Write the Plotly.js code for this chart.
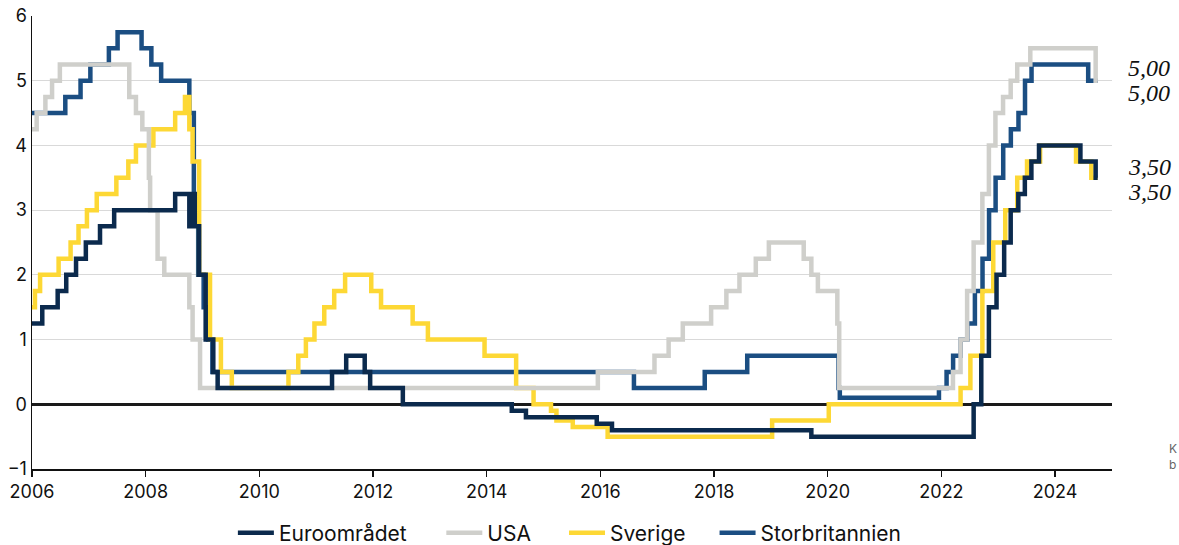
<!DOCTYPE html>
<html>
<head>
<meta charset="utf-8">
<script src="https://cdn.plot.ly/plotly-3.0.1.min.js"></script>
<style>html,body{margin:0;padding:0;background:#fff;}#chart{width:1179px;height:545px;}</style>
</head>
<body>
<div id="chart"></div>
<script>
// Euroområdet (ECB deposit rate)
const euroDates = ['2006-01-01','2006-03-08','2006-06-15','2006-08-09','2006-10-11','2006-12-13','2007-03-14','2007-06-13','2008-07-09','2008-10-08','2008-10-15','2008-11-12','2008-12-10','2009-01-21','2009-03-11','2009-04-08','2011-04-13','2011-07-13','2011-11-09','2011-12-14','2012-07-11','2014-06-11','2014-09-10','2015-12-09','2016-03-16','2019-09-18','2022-07-27','2022-09-14','2022-11-02','2022-12-21','2023-02-08','2023-03-22','2023-05-10','2023-06-21','2023-08-02','2023-09-20','2024-06-12','2024-09-18','2024-10-01'];
const euroValues = [1.25,1.5,1.75,2.0,2.25,2.5,2.75,3.0,3.25,2.75,3.25,2.75,2.0,1.0,0.5,0.25,0.5,0.75,0.5,0.25,0.0,-0.1,-0.2,-0.3,-0.4,-0.5,0.0,0.75,1.5,2.0,2.5,3.0,3.25,3.5,3.75,4.0,3.75,3.5,3.5];

// USA (Fed funds, upper bound)
const usaDates = ['2006-01-01','2006-01-31','2006-03-28','2006-05-10','2006-06-29','2007-09-18','2007-10-31','2007-12-11','2008-01-22','2008-01-30','2008-03-18','2008-04-30','2008-10-08','2008-10-29','2008-12-16','2015-12-16','2016-12-14','2017-03-15','2017-06-14','2017-12-13','2018-03-21','2018-06-13','2018-09-26','2018-12-19','2019-07-31','2019-09-18','2019-10-30','2020-03-03','2020-03-15','2022-03-16','2022-05-04','2022-06-15','2022-07-27','2022-09-21','2022-11-02','2022-12-14','2023-02-01','2023-03-22','2023-05-03','2023-07-26','2024-09-18','2024-10-01'];
const usaValues = [4.25,4.5,4.75,5.0,5.25,4.75,4.5,4.25,3.5,3.0,2.25,2.0,1.5,1.0,0.25,0.5,0.75,1.0,1.25,1.5,1.75,2.0,2.25,2.5,2.25,2.0,1.75,1.25,0.25,0.5,1.0,1.75,2.5,3.25,4.0,4.5,4.75,5.0,5.25,5.5,5.0,5.0];

// Sverige (reporänta)
const sweDates = ['2006-01-01','2006-01-20','2006-02-22','2006-06-21','2006-09-06','2006-10-27','2006-12-20','2007-02-21','2007-06-27','2007-09-12','2007-10-31','2008-02-20','2008-07-09','2008-09-10','2008-10-08','2008-10-29','2008-12-10','2009-02-18','2009-04-29','2009-07-08','2010-07-07','2010-09-08','2010-10-27','2010-12-21','2011-02-22','2011-04-27','2011-07-06','2011-12-21','2012-02-22','2012-09-12','2012-12-19','2013-12-18','2014-07-09','2014-10-29','2015-02-18','2015-03-25','2015-07-08','2016-02-17','2019-01-09','2020-01-08','2022-05-04','2022-07-06','2022-09-21','2022-11-30','2023-02-15','2023-05-03','2023-07-05','2023-09-27','2024-05-15','2024-08-21','2024-10-01'];
const sweValues = [1.5,1.75,2.0,2.25,2.5,2.75,3.0,3.25,3.5,3.75,4.0,4.25,4.5,4.75,4.25,3.75,2.0,1.0,0.5,0.25,0.5,0.75,1.0,1.25,1.5,1.75,2.0,1.75,1.5,1.25,1.0,0.75,0.25,0.0,-0.1,-0.25,-0.35,-0.5,-0.25,0.0,0.25,0.75,1.75,2.5,3.0,3.5,3.75,4.0,3.75,3.5,3.5];

// Storbritannien (Bank Rate)
const ukDates = ['2006-01-01','2006-08-03','2006-11-09','2007-01-11','2007-05-10','2007-07-05','2007-12-06','2008-02-07','2008-04-10','2008-10-08','2008-11-06','2008-12-04','2009-01-08','2009-02-05','2009-03-05','2016-08-04','2017-11-02','2018-08-02','2020-03-11','2020-03-19','2021-12-16','2022-02-03','2022-03-17','2022-05-05','2022-06-16','2022-08-04','2022-09-22','2022-11-03','2022-12-15','2023-02-02','2023-03-23','2023-05-11','2023-06-22','2023-08-03','2024-08-01','2024-10-01'];
const ukValues = [4.5,4.75,5.0,5.25,5.5,5.75,5.5,5.25,5.0,4.5,3.0,2.0,1.5,1.0,0.5,0.25,0.5,0.75,0.25,0.1,0.25,0.5,0.75,1.0,1.25,1.75,2.25,3.0,3.5,4.0,4.25,4.5,5.0,5.25,5.0,5.0];

const seriesNames = ['Euroområdet','USA','Sverige','Storbritannien'];
const endLabels = ['5,00','5,00','3,50','3,50'];
const endLabelValues = [5.0, 5.0, 3.5, 3.5];

const colors = {euro:'#0b2a4d', usa:'#cfcfcb', swe:'#fdd835', uk:'#1b4e82'};
const LW = 4.5;
function tr(name, x, y, color, leg){
  return {type:'scatter', mode:'lines', name:name, x:x, y:y, legend:leg,
    line:{shape:'hv', color:color, width:LW}, hoverinfo:'skip'};
}
// draw order: UK bottom, then Sweden, USA, Euro on top
const data = [
  tr(seriesNames[3], ukDates, ukValues, colors.uk, 'legend4'),
  tr(seriesNames[2], sweDates, sweValues, colors.swe, 'legend3'),
  tr(seriesNames[1], usaDates, usaValues, colors.usa, 'legend2'),
  tr(seriesNames[0], euroDates, euroValues, colors.euro, 'legend')
];

const fontFam = 'Inter, "Open Sans", sans-serif';
const shifts = [13, -12, 11, -14];
const annotations = endLabels.map((t,i)=>({
  xref:'paper', yref:'y', x:1, y:endLabelValues[i], xshift:14, yshift:shifts[i],
  xanchor:'left', yanchor:'middle', showarrow:false, text:t,
  font:{family:'"Liberation Serif", "Times New Roman", serif', size:24, style:'italic', color:'#111'}
}));
annotations.push({xref:'paper', yref:'paper', x:1, y:0.046, xshift:55, xanchor:'left', yanchor:'middle', showarrow:false, text:'K', font:{family:fontFam, size:12, color:'#666'}});
annotations.push({xref:'paper', yref:'paper', x:1, y:0.009, xshift:55, xanchor:'left', yanchor:'middle', showarrow:false, text:'b', font:{family:fontFam, size:12, color:'#666'}});

function leg(x){
  return {orientation:'h', x:x, xanchor:'left', yref:'container', y:0.022, yanchor:'middle',
    font:{family:fontFam, size:21, color:'#111'}, itemwidth:36, bgcolor:'rgba(0,0,0,0)'};
}

const layout = {
  width:1179, height:545,
  margin:{l:32, r:67, t:16, b:76, autoexpand:false},
  paper_bgcolor:'#fff', plot_bgcolor:'#fff',
  font:{family:fontFam, color:'#111', size:17},
  showlegend:true,
  legend:leg(0.186),
  legend2:leg(0.379),
  legend3:leg(0.4926),
  legend4:leg(0.632),
  xaxis:{type:'date', range:['2006-01-01','2025-01-01'], tick0:'2006-01-01', dtick:'M24',
    tickformat:'%Y', showgrid:false, showline:true, linecolor:'#111', linewidth:1.5,
    ticks:'outside', ticklen:6, tickcolor:'#111', tickwidth:1.2,
    tickfont:{family:fontFam, size:18, color:'#111'}, zeroline:false},
  yaxis:{range:[-1,6], dtick:1, showgrid:true, gridcolor:'#d9d9d9', gridwidth:1,
    showline:true, linecolor:'#111', linewidth:1.5, ticks:'',
    zeroline:true, zerolinecolor:'#1a1a1a', zerolinewidth:2.5,
    tickfont:{family:fontFam, size:18, color:'#111'}},
  annotations:annotations
};
Plotly.newPlot('chart', data, layout, {displayModeBar:false, staticPlot:true});
</script>
</body>
</html>
